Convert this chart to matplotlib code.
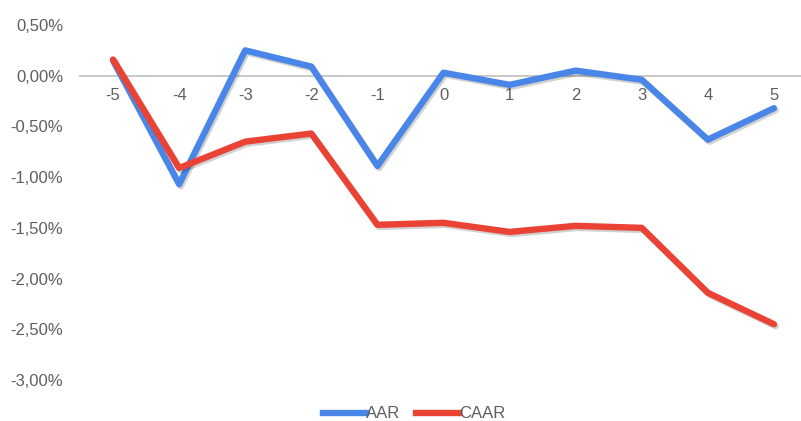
import matplotlib
matplotlib.use("Agg")
import matplotlib.pyplot as plt
import matplotlib.patheffects as pe
from matplotlib.ticker import FuncFormatter

# Event window (days relative to the event)
days = [-5, -4, -3, -2, -1, 0, 1, 2, 3, 4, 5]
# Average abnormal return, in %
aar = [0.15, -1.07, 0.25, 0.09, -0.89, 0.03, -0.09, 0.05, -0.04, -0.63, -0.32]
# Cumulative average abnormal return, in %
caar = [0.16, -0.91, -0.65, -0.57, -1.47, -1.45, -1.54, -1.48, -1.50, -2.14, -2.45]

y_ticks = [0.5, 0.0, -0.5, -1.0, -1.5, -2.0, -2.5, -3.0]

BLUE = "#4a86e8"
RED = "#ea4335"
TEXT = "#5f5f5f"

plt.rcParams["font.family"] = ["Liberation Sans", "DejaVu Sans"]

fig = plt.figure(figsize=(8.01, 4.21), dpi=100)
ax = fig.add_axes([80 / 801, 1 - 380 / 421, 727 / 801, (380 - 25) / 421])

shadow = [pe.SimpleLineShadow(offset=(1.2, -1.5), shadow_color="#000000", alpha=0.18),
          pe.Normal()]

ax.plot(days, aar, color=BLUE, lw=4.6, label="AAR", solid_joinstyle="round",
        solid_capstyle="round", path_effects=shadow, zorder=3)
ax.plot(days, caar, color=RED, lw=4.6, label="CAAR", solid_joinstyle="round",
        solid_capstyle="round", path_effects=shadow, zorder=4)

ax.set_xlim(days[0] - 0.5, days[-1] + 0.5)
ax.set_ylim(-3.0, 0.5)
ax.set_yticks(y_ticks)
ax.yaxis.set_major_formatter(FuncFormatter(lambda v, _: f"{v:.2f}%".replace(".", ",")))
ax.set_xticks(days)
ax.set_xticklabels([str(d) for d in days])

for side in ["top", "right", "left"]:
    ax.spines[side].set_visible(False)
ax.spines["bottom"].set_position(("data", 0))
ax.spines["bottom"].set_color("#c8c8c8")
ax.spines["bottom"].set_linewidth(1.4)
ax.spines["bottom"].set_zorder(1)

ax.tick_params(axis="y", length=0, pad=12, labelsize=12, labelcolor=TEXT)
ax.tick_params(axis="x", length=0, pad=9, labelsize=12, labelcolor=TEXT)

labels = ["AAR", "CAAR"]
fig.legend(
    [plt.Line2D([], [], color=BLUE, lw=4.6), plt.Line2D([], [], color=RED, lw=4.6)],
    labels, loc="center", bbox_to_anchor=(414 / 801, 1 - 414 / 421), ncol=2,
    frameon=False, fontsize=12, handlelength=2.6, handletextpad=0.0,
    columnspacing=0.9, labelcolor=TEXT,
)

fig.savefig("out.png", dpi=100, facecolor="white")
